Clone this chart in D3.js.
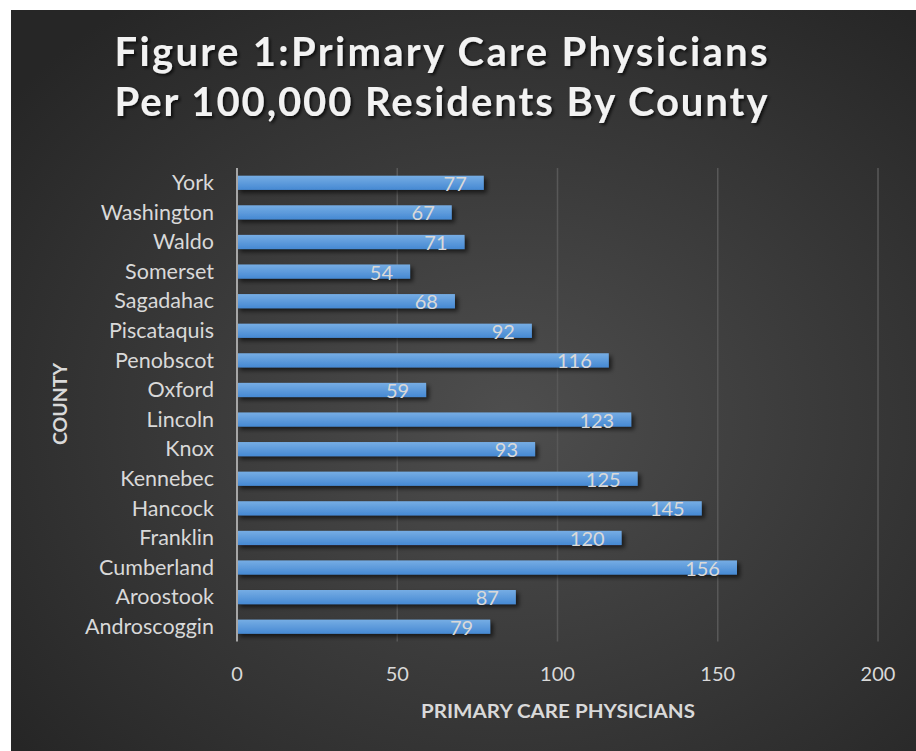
<!DOCTYPE html>
<html lang="en">
<head>
    <meta charset="utf-8">
    <title>Primary Care Physicians</title>
    <script src="https://d3js.org/d3.v7.min.js"></script>
    <style>
        body { margin: 0; background: #fff; }
        svg text { font-family: Lato, "Open Sans", sans-serif; }
        .tick-label, .value-label { fill: #d9d9d9; font-size: 20px; }
        .cat-label { fill: #d9d9d9; font-size: 21.5px; }
        .axis-title { fill: #d9d9d9; font-size: 19px; font-weight: bold; }
        .chart-title { fill: #f2f2f2; font-size: 40px; font-weight: bold; }
    </style>
</head>
<body>
    <svg id="chart" width="916" height="751"></svg>
    <script>
        // Data, bottom to top as in the original sheet
        const counties = ["Androscoggin", "Aroostook", "Cumberland", "Franklin", "Hancock", "Kennebec",
            "Knox", "Lincoln", "Oxford", "Penobscot", "Piscataquis", "Sagadahac", "Somerset",
            "Waldo", "Washington", "York"];
        const physicians = [79, 87, 156, 120, 145, 125, 93, 123, 59, 116, 92, 68, 54, 71, 67, 77];
        const xTicks = [0, 50, 100, 150, 200];
        const titleLines = ["Figure 1:Primary Care Physicians", "Per 100,000 Residents By County"];

        const data = counties.map((c, i) => ({ county: c, value: physicians[i] }));

        const svg = d3.select("#chart");
        const defs = svg.append("defs");

        // background gradient
        const bg = defs.append("radialGradient").attr("id", "bg")
            .attr("cx", "55%").attr("cy", "55%").attr("r", "70%");
        bg.append("stop").attr("offset", "0%").attr("stop-color", "#4e4e4e");
        bg.append("stop").attr("offset", "100%").attr("stop-color", "#262626");

        const barGrad = defs.append("linearGradient").attr("id", "barGrad")
            .attr("x1", 0).attr("y1", 0).attr("x2", 0).attr("y2", 1);
        barGrad.append("stop").attr("offset", "0%").attr("stop-color", "#76ade4");
        barGrad.append("stop").attr("offset", "100%").attr("stop-color", "#4689d3");

        const shadow = defs.append("filter").attr("id", "shadow")
            .attr("x", "-10%").attr("y", "-50%").attr("width", "130%").attr("height", "250%");
        shadow.append("feDropShadow").attr("dx", 3).attr("dy", 3).attr("stdDeviation", 2)
            .attr("flood-color", "#000").attr("flood-opacity", 0.6);

        const tshadow = defs.append("filter").attr("id", "tshadow");
        tshadow.append("feDropShadow").attr("dx", 2).attr("dy", 2).attr("stdDeviation", 1.5)
            .attr("flood-color", "#000").attr("flood-opacity", 0.7);

        svg.append("rect")
            .attr("x", 11).attr("y", 10).attr("width", 905).attr("height", 741)
            .attr("fill", "url(#bg)");

        // scales
        const x = d3.scaleLinear().domain([0, 200]).range([237, 878]);
        const y = d3.scaleBand()
            .domain(counties.slice().reverse())
            .range([168, 641.5])
            .paddingInner(0.52)
            .paddingOuter(0.26);

        // gridlines
        svg.append("g").selectAll("line")
            .data(xTicks.slice(1))
            .join("line")
            .attr("x1", d => x(d)).attr("x2", d => x(d))
            .attr("y1", 168).attr("y2", 641.5)
            .attr("stroke", "#585858").attr("stroke-width", 1.5);

        // bars
        svg.append("g").selectAll("rect")
            .data(data)
            .join("rect")
            .attr("x", x(0))
            .attr("y", d => y(d.county))
            .attr("width", d => x(d.value) - x(0))
            .attr("height", y.bandwidth())
            .attr("fill", "url(#barGrad)")
            .attr("filter", "url(#shadow)");

        // baseline
        svg.append("line")
            .attr("x1", x(0)).attr("x2", x(0))
            .attr("y1", 168).attr("y2", 641.5)
            .attr("stroke", "#a6a6a6").attr("stroke-width", 2);

        // value labels
        svg.append("g").selectAll("text")
            .data(data)
            .join("text")
            .attr("class", "value-label")
            .attr("x", d => x(d.value) - 17)
            .attr("y", d => y(d.county) + y.bandwidth() / 2)
            .attr("dy", "0.4em")
            .attr("text-anchor", "end")
            .text(d => d.value);

        // category labels
        svg.append("g").selectAll("text")
            .data(counties)
            .join("text")
            .attr("class", "cat-label")
            .attr("x", 214)
            .attr("y", d => y(d) + y.bandwidth() / 2)
            .attr("dy", "0.34em")
            .attr("text-anchor", "end")
            .text(d => d);

        // x tick labels
        svg.append("g").selectAll("text")
            .data(xTicks)
            .join("text")
            .attr("class", "tick-label")
            .attr("x", d => x(d))
            .attr("y", 681)
            .attr("text-anchor", "middle")
            .text(d => d);

        // axis titles
        svg.append("text")
            .attr("class", "axis-title")
            .attr("x", 558).attr("y", 718)
            .attr("text-anchor", "middle")
            .attr("textLength", 274).attr("lengthAdjust", "spacingAndGlyphs")
            .text("PRIMARY CARE PHYSICIANS");

        svg.append("text")
            .attr("class", "axis-title")
            .attr("transform", "translate(67,404) rotate(-90)")
            .attr("text-anchor", "middle")
            .attr("textLength", 82).attr("lengthAdjust", "spacingAndGlyphs")
            .text("COUNTY");

        // chart title
        svg.append("g").attr("filter", "url(#tshadow)")
            .selectAll("text")
            .data(titleLines)
            .join("text")
            .attr("class", "chart-title")
            .attr("x", 441)
            .attr("y", (d, i) => 66 + i * 50)
            .attr("text-anchor", "middle")
            .attr("textLength", 653).attr("lengthAdjust", "spacing")
            .text(d => d);
    </script>
</body>
</html>
